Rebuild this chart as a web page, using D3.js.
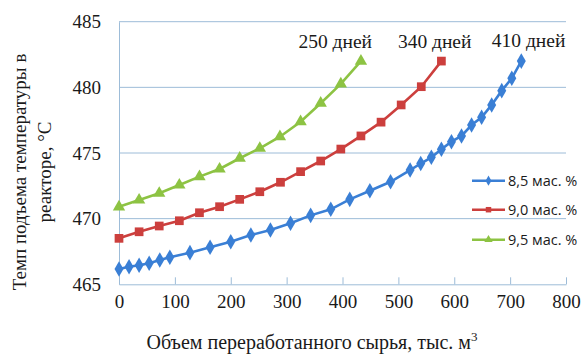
<!DOCTYPE html>
<html>
<head>
<meta charset="utf-8">
<script src="https://cdn.jsdelivr.net/npm/d3@7/dist/d3.min.js"></script>
<style>
  html, body { margin: 0; padding: 0; background: #fff; }
  svg { display: block; }
</style>
</head>
<body>
<svg id="chart" width="582" height="354"></svg>
<script>
// Processed feed volume (thousand m³) and reactor temperature (°C) for each catalyst coke level
const xBlue = [0, 18, 36, 54, 73, 91, 127, 163, 200, 236, 271, 307, 343, 379, 413, 449, 486, 521, 540, 559, 577, 595, 613, 631, 649, 667, 685, 703, 720];
const tBlue = [466.17, 466.34, 466.45, 466.6, 466.85, 467.06, 467.41, 467.82, 468.24, 468.75, 469.14, 469.65, 470.25, 470.71, 471.47, 472.13, 472.81, 473.7, 474.2, 474.67, 475.28, 475.86, 476.3, 477.13, 477.72, 478.66, 479.75, 480.69, 482.0];

const xRed = [0, 36, 72, 108, 144, 180, 216, 252, 289, 325, 361, 397, 433, 469, 505, 541, 577];
const tRed = [468.5, 469.0, 469.44, 469.84, 470.45, 470.91, 471.47, 472.05, 472.77, 473.58, 474.39, 475.3, 476.3, 477.35, 478.66, 480.05, 482.0];

const xGreen = [0, 36, 72, 108, 144, 180, 216, 252, 288, 325, 361, 397, 433];
const tGreen = [470.9, 471.42, 471.93, 472.56, 473.2, 473.78, 474.6, 475.36, 476.24, 477.38, 478.79, 480.26, 482.0];

const seriesNames = ["8,5 мас. %", "9,0 мас. %", "9,5 мас. %"];
const runLabels = ["410 дней", "340 дней", "250 дней"];
const xTicks = [0, 100, 200, 300, 400, 500, 600, 700, 800];
const yTicks = [465, 470, 475, 480, 485];

const svg = d3.select("#chart");
const plotLeft = 119, plotRight = 566, plotTop = 21.7, plotBottom = 284.3;

const x = d3.scaleLinear().domain([0, 800]).range([plotLeft, plotRight]);
const y = d3.scaleLinear().domain([465, 485]).range([plotBottom, plotTop]);

const gridColor = "#9dbcd8";
const serif = "'Liberation Serif', 'Times New Roman', serif";

// horizontal grid
svg.append("g")
  .selectAll("line")
  .data(yTicks.slice(1))
  .join("line")
  .attr("x1", plotLeft).attr("x2", plotRight)
  .attr("y1", d => y(d)).attr("y2", d => y(d))
  .attr("stroke", gridColor).attr("stroke-width", 1);

// x axis with inward ticks
const xAxis = svg.append("g")
  .attr("transform", `translate(0,${plotBottom})`)
  .call(d3.axisBottom(x).tickValues(xTicks).tickSize(-7).tickSizeOuter(0).tickPadding(14));
xAxis.select(".domain").attr("stroke", gridColor);
xAxis.selectAll(".tick line").attr("stroke", gridColor);
xAxis.selectAll("text")
  .attr("font-family", serif).attr("font-size", 19).attr("fill", "#1a1a1a")
  .attr("dy", "0.5em");

// y axis
const yAxis = svg.append("g")
  .attr("transform", `translate(${plotLeft},0)`)
  .call(d3.axisLeft(y).tickValues(yTicks).tickSize(0).tickPadding(18));
yAxis.select(".domain").attr("stroke", gridColor);
yAxis.selectAll("text")
  .attr("font-family", serif).attr("font-size", 19).attr("fill", "#1a1a1a");

// series
const series = [
  { xs: xBlue,  ts: tBlue,  color: "#3a7fd5", shape: d3.symbolDiamond, size: 70 },
  { xs: xRed,   ts: tRed,   color: "#cc3f3d", shape: d3.symbolSquare,  size: 76 },
  { xs: xGreen, ts: tGreen, color: "#8dc343", shape: d3.symbolTriangle, size: 66 }
];

const line = d3.line().x(d => x(d[0])).y(d => y(d[1]));

series.forEach(s => {
  const pts = s.xs.map((v, i) => [v, s.ts[i]]);
  svg.append("path")
    .datum(pts)
    .attr("d", line)
    .attr("fill", "none")
    .attr("stroke", s.color)
    .attr("stroke-width", 2.6);
  svg.append("g")
    .selectAll("path")
    .data(pts)
    .join("path")
    .attr("transform", d => `translate(${x(d[0])},${y(d[1])})`)
    .attr("d", d3.symbol().type(s.shape).size(s.size))
    .attr("fill", s.color);
});

// duration labels above line ends
const labelPos = [
  { xv: 733, tv: 483.1 },
  { xv: 565, tv: 483.0 },
  { xv: 387, tv: 483.0 }
];
svg.append("g")
  .selectAll("text")
  .data(runLabels)
  .join("text")
  .attr("x", (d, i) => x(labelPos[i].xv))
  .attr("y", (d, i) => y(labelPos[i].tv))
  .attr("text-anchor", "middle")
  .attr("font-family", serif).attr("font-size", 19.5).attr("fill", "#1a1a1a")
  .text(d => d);

// legend
const legend = svg.append("g");
const legendY = [180.7, 209.7, 239.7];
series.forEach((s, i) => {
  const g = legend.append("g").attr("transform", `translate(472,${legendY[i]})`);
  g.append("line").attr("x1", 0).attr("x2", 33).attr("y1", 0).attr("y2", 0)
    .attr("stroke", s.color).attr("stroke-width", 2.6);
  g.append("path").attr("transform", "translate(16.5,0)")
    .attr("d", d3.symbol().type(s.shape).size(30)).attr("fill", s.color);
  g.append("text").attr("x", 36).attr("y", 0).attr("dy", "0.36em")
    .attr("font-family", "'Open Sans', 'Noto Sans', sans-serif")
    .attr("font-size", 14.5).attr("fill", "#1a1a1a")
    .text(seriesNames[i]);
});

// axis titles
const xTitle = svg.append("text")
  .attr("x", 312).attr("y", 349)
  .attr("text-anchor", "middle")
  .attr("font-family", serif).attr("font-size", 20).attr("fill", "#1a1a1a");
xTitle.append("tspan").text("Объем переработанного сырья, тыс. м");
xTitle.append("tspan").attr("dy", -8).attr("font-size", 13).text("3");

const yTitle = svg.append("text")
  .attr("transform", "translate(0,172) rotate(-90)")
  .attr("text-anchor", "middle")
  .attr("font-family", serif).attr("font-size", 19).attr("fill", "#1a1a1a");
yTitle.append("tspan").attr("x", 0).attr("y", 26).text("Темп подъема температуры в");
yTitle.append("tspan").attr("x", 0).attr("y", 51).text("реакторе, °С");
</script>
</body>
</html>
